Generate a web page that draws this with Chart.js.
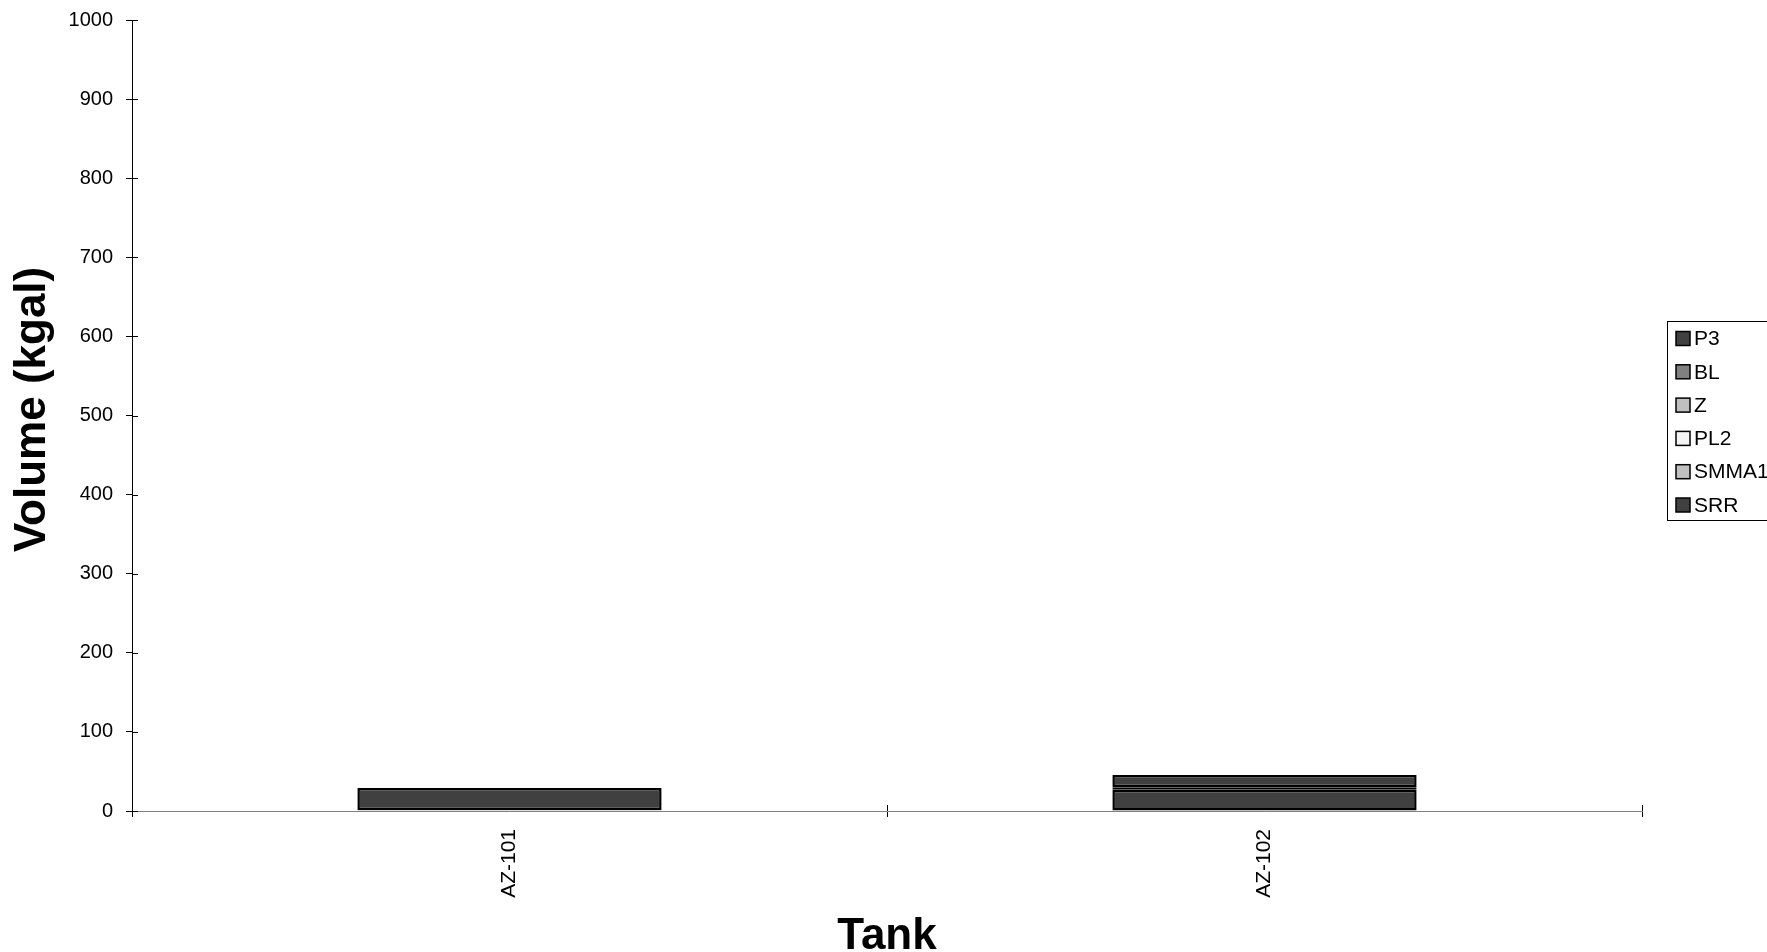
<!DOCTYPE html>
<html>
<head>
<meta charset="utf-8">
<title>Tank Volume</title>
<script src="https://cdn.jsdelivr.net/npm/chart.js@4.4.1/dist/chart.umd.min.js"></script>
<style>
  html, body { margin: 0; padding: 0; background: #fff; overflow: hidden; }
  canvas { display: block; }
</style>
</head>
<body>
<canvas id="chart" width="1767" height="952"></canvas>
<script>
// Tanks on the category axis
const tanks = ['AZ-101', 'AZ-102'];

// Stacked waste volumes per layer (kgal), bottom of the stack first
const srr   = [1, 27];
const smma1 = [0, 0];
const pl2   = [0, 0];
const z     = [0, 0];
const bl    = [0, 3];
const p3    = [28, 15.5];

// Value axis ticks (kgal)
const yTicks = [0, 100, 200, 300, 400, 500, 600, 700, 800, 900, 1000];

const FONT = "'Liberation Sans', Arial, sans-serif";

const layers = [
  { label: 'SRR',   data: srr,   color: '#404040' },
  { label: 'SMMA1', data: smma1, color: '#c0c0c0' },
  { label: 'PL2',   data: pl2,   color: '#f4f4f4' },
  { label: 'Z',     data: z,     color: '#c0c0c0' },
  { label: 'BL',    data: bl,    color: '#808080' },
  { label: 'P3',    data: p3,    color: '#404040' }
];

// Tick marks that cross both axes, placed through the chart scales
const crossTicks = {
  id: 'crossTicks',
  afterDraw(chart) {
    const { ctx, chartArea, scales } = chart;
    ctx.save();
    ctx.strokeStyle = '#000';
    ctx.lineWidth = 1;
    ctx.beginPath();
    yTicks.forEach(v => {
      const y = Math.round(scales.y.getPixelForValue(v)) + 0.5;
      ctx.moveTo(chartArea.left, y);
      ctx.lineTo(chartArea.left + 6, y);
    });
    const xs = scales.x;
    for (let i = 0; i <= tanks.length; i++) {
      const x = Math.round(xs.getPixelForValue(i - 0.5)) + 0.5;
      ctx.moveTo(x, chartArea.bottom - 6);
      ctx.lineTo(x, chartArea.bottom);
    }
    ctx.stroke();
    ctx.restore();
  }
};

// Boxed legend at the right, top entry = top of the stack
const boxLegend = {
  id: 'boxLegend',
  afterDraw(chart) {
    const { ctx } = chart;
    const items = chart.data.datasets.slice().reverse();
    const left = 1667.5, top = 321.5, bottom = 520.5, right = 1800;
    ctx.save();
    ctx.strokeStyle = '#000';
    ctx.lineWidth = 1;
    ctx.strokeRect(left, top, right - left, bottom - top);
    ctx.font = '21px ' + FONT;
    ctx.textBaseline = 'middle';
    ctx.textAlign = 'left';
    const rowH = 33.3;
    items.forEach((ds, i) => {
      const cy = 338.5 + i * rowH;
      ctx.fillStyle = ds.backgroundColor;
      ctx.fillRect(1676, cy - 7, 14, 14);
      ctx.lineWidth = 1.5;
      ctx.strokeStyle = '#000';
      ctx.strokeRect(1676, cy - 7, 14, 14);
      ctx.fillStyle = '#000';
      ctx.fillText(ds.label, 1694, cy + 1);
    });
    ctx.restore();
  }
};

new Chart(document.getElementById('chart'), {
  type: 'bar',
  data: {
    labels: tanks,
    datasets: layers.map(l => ({
      label: l.label,
      data: l.data,
      backgroundColor: l.color,
      borderColor: '#000',
      borderWidth: 2.5,
      borderSkipped: false,
      inflateAmount: 0,
      categoryPercentage: 1.0,
      barPercentage: 0.403
    }))
  },
  options: {
    responsive: false,
    animation: false,
    devicePixelRatio: 1,
    layout: { padding: { left: 0, right: 125, top: 20, bottom: 0 } },
    plugins: {
      legend: { display: false },
      tooltip: { enabled: false }
    },
    scales: {
      x: {
        stacked: true,
        offset: true,
        grid: {
          offset: true,
          drawOnChartArea: false,
          drawTicks: true,
          tickLength: 6,
          color: '#000'
        },
        border: { display: true, color: '#808080', width: 1 },
        ticks: {
          minRotation: 90,
          maxRotation: 90,
          padding: 12,
          color: '#000',
          font: { family: FONT, size: 21 }
        },
        title: {
          display: true,
          text: 'Tank',
          color: '#000',
          font: { family: FONT, size: 44, weight: 'bold', lineHeight: 0.8 },
          padding: { top: 0, bottom: -2 }
        },
        afterFit(scale) {
          scale.height = 141;
          scale.paddingLeft = 0;
          scale.paddingRight = 0;
        }
      },
      y: {
        stacked: true,
        min: 0,
        max: 1000,
        afterBuildTicks(scale) { scale.ticks = yTicks.map(v => ({ value: v })); },
        grid: {
          drawOnChartArea: false,
          drawTicks: true,
          tickLength: 6,
          color: '#000'
        },
        border: { display: true, color: '#000', width: 1 },
        ticks: {
          padding: 13,
          color: '#000',
          font: { family: FONT, size: 20 },
          callback: v => String(v)
        },
        title: {
          display: true,
          text: ' Volume (kgal)',
          color: '#000',
          font: { family: FONT, size: 44, weight: 'bold', lineHeight: 0.8 },
          padding: { top: 15, bottom: 0 }
        },
        afterFit(scale) {
          scale.width = 132;
          scale.paddingTop = 0;
          scale.paddingBottom = 0;
        }
      }
    }
  },
  plugins: [crossTicks, boxLegend]
});
</script>
</body>
</html>
